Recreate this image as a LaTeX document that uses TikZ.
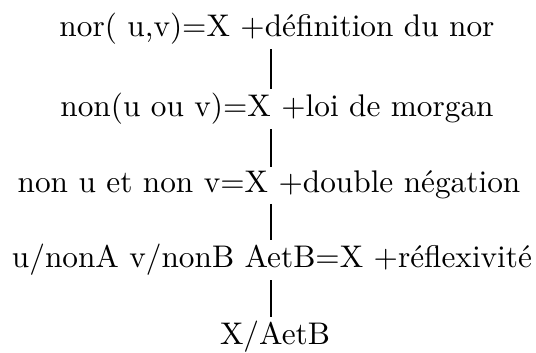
\documentclass[tikz,border=0pt]{standalone}
\usepackage{tikz}
\usetikzlibrary{positioning}
\font\preuve="[lmroman10-regular.otf]" at 15.65pt
\tikzset{etape/.style={anchor=base,inner sep=2pt,font=\preuve},lien/.style={line width=1pt,draw=black}}

\begin{document}
\begin{tikzpicture}[x=0.5pt,y=0.5pt]
  \useasboundingbox (0,0) rectangle (536,353);
  \coordinate (tige) at (271,0);
  \node[etape] (l1) at (277,316) {nor( u,v)=X +définition du nor};
  \node[etape] (l2) at (277,236) {non(u ou v)=X +loi de morgan};
  \node[etape] (l3) at (269,160) {non u et non v=X +double négation};
  \node[etape] (l4) at (272,85) {u/nonA v/nonB AetB=X +réflexivité};
  \node[etape] (l5) at (275,8) {X/AetB};
  \draw[lien](l1.south -| tige)--(l2.north -| tige);\draw[lien](l2.south -| tige)--(l3.north -| tige);
  \draw[lien](l3.south -| tige)--(l4.north -| tige);\draw[lien](l4.south -| tige)--(l5.north -| tige);
\end{tikzpicture}
\end{document}
